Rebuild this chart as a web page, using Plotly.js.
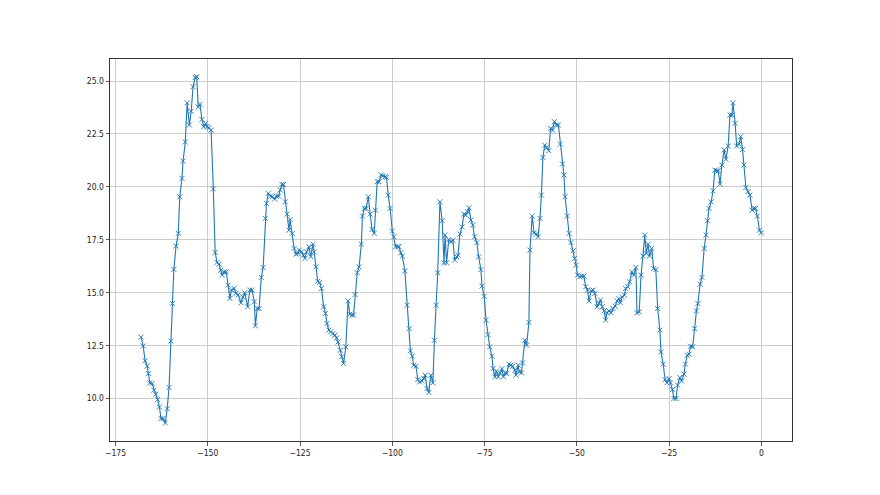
<!DOCTYPE html>
<html>
<head>
<meta charset="utf-8">
<script src="https://cdn.plot.ly/plotly-3.0.1.min.js"></script>
<style>html,body{margin:0;padding:0;background:#fff;}#chart{width:880px;height:495px;}</style>
</head>
<body>
<div id="chart"></div>
<script>
const hours = [
-168.1,-167.5,-167.0,-166.4,-166.1,-165.7,-165.1,-164.6,-164.1,-163.6,-163.1,-162.7,-162.1,-161.5,-161.0,-160.5,-160.0,-159.6,-159.2,-158.6,
-158.0,-157.6,-157.0,-156.7,-156.1,-155.6,-155.0,-154.5,-154.0,-153.4,-153.0,-152.6,-152.1,-151.6,-151.1,-150.6,-150.2,-149.7,-149.1,-148.5,
-148.0,-147.5,-147.0,-146.5,-146.1,-145.6,-145.0,-144.5,-144.0,-143.6,-142.9,-142.4,-141.8,-141.0,-140.5,-140.0,-139.2,-138.6,-138.0,-137.4,
-137.1,-136.6,-136.1,-135.5,-135.0,-134.4,-134.1,-133.6,-133.0,-132.5,-131.9,-131.4,-130.8,-130.4,-129.9,-129.5,-129.0,-128.5,-128.0,-127.7,
-127.1,-126.6,-126.1,-125.6,-125.2,-124.6,-124.1,-123.7,-123.2,-122.6,-122.1,-121.5,-121.2,-120.7,-120.2,-119.7,-119.2,-118.6,-118.1,-117.7,
-117.2,-116.7,-116.1,-115.6,-115.1,-114.7,-114.1,-113.7,-113.2,-112.6,-112.0,-111.5,-111.0,-110.5,-110.1,-109.5,-109.0,-108.4,-108.1,-107.6,
-107.1,-106.5,-106.0,-105.5,-104.9,-104.6,-104.1,-103.6,-103.0,-102.5,-101.9,-101.6,-101.1,-100.6,-100.0,-99.6,-99.1,-98.5,-98.2,-97.7,
-97.3,-96.6,-96.0,-95.4,-95.1,-94.6,-94.2,-93.6,-93.1,-92.6,-92.0,-91.5,-91.1,-90.6,-90.1,-89.6,-89.0,-88.6,-88.1,-87.7,
-87.1,-86.5,-86.0,-85.7,-85.3,-84.7,-84.2,-83.6,-83.1,-82.5,-82.2,-81.7,-81.1,-80.6,-80.1,-79.6,-79.2,-78.7,-78.2,-77.7,
-77.1,-76.6,-76.0,-75.7,-75.1,-74.6,-74.1,-73.6,-73.0,-72.7,-72.2,-71.8,-71.3,-70.8,-70.3,-69.9,-69.4,-69.0,-68.4,-67.9,
-67.4,-66.8,-66.5,-65.9,-65.6,-65.0,-64.7,-64.1,-63.6,-63.0,-62.7,-62.1,-61.6,-61.0,-60.5,-60.0,-59.6,-59.2,-58.7,-58.2,
-57.6,-57.1,-56.6,-56.1,-55.5,-55.0,-54.5,-53.9,-53.5,-53.2,-52.6,-52.1,-51.6,-51.0,-50.6,-50.2,-49.8,-49.2,-48.7,-48.1,
-47.6,-47.1,-46.7,-46.1,-45.6,-45.1,-44.5,-44.0,-43.6,-43.1,-42.6,-42.2,-41.8,-41.3,-40.7,-40.2,-39.6,-39.1,-38.6,-38.2,
-37.7,-37.1,-36.8,-36.2,-35.7,-35.1,-34.6,-34.0,-33.7,-33.1,-32.6,-32.1,-31.6,-31.2,-30.7,-30.3,-29.7,-29.2,-28.6,-28.1,
-27.5,-27.2,-26.6,-26.1,-25.6,-25.0,-24.6,-24.1,-23.7,-23.1,-22.7,-22.1,-21.6,-21.0,-20.6,-20.1,-19.6,-19.2,-18.6,-18.1,
-17.6,-17.2,-16.6,-16.1,-15.5,-15.0,-14.6,-14.2,-13.6,-13.1,-12.6,-12.1,-11.7,-11.2,-10.7,-10.1,-9.6,-9.0,-8.5,-8.0,
-7.7,-7.1,-6.7,-6.1,-5.6,-5.1,-4.7,-4.2,-3.6,-3.1,-2.5,-2.0,-1.6,-1.1,-0.5,0.0
];
const values = [
12.9,12.48,11.78,11.53,11.18,10.74,10.71,10.39,10.2,9.95,9.6,9.05,9.05,8.84,9.52,10.52,12.71,14.49,16.1,17.2,
17.8,19.53,20.4,21.22,22.12,23.97,22.92,23.57,24.73,25.17,25.2,23.78,23.9,23.19,22.84,23.0,22.84,22.79,22.68,19.9,
16.9,16.43,16.35,16.06,15.83,15.98,15.98,15.35,14.72,15.12,15.2,14.96,14.9,14.52,14.8,15.0,14.33,15.12,15.12,14.57,
13.43,14.25,14.25,15.72,16.19,18.51,19.22,19.69,19.56,19.53,19.42,19.56,19.56,19.85,20.11,20.11,19.29,18.71,17.95,18.46,
17.8,17.09,16.82,16.85,17.01,16.93,16.77,16.62,16.93,17.17,16.7,17.29,16.93,16.22,15.54,15.48,15.2,14.33,14.02,13.54,
13.23,13.15,13.07,12.99,12.86,12.67,12.28,11.97,11.65,12.44,14.61,13.98,13.94,13.94,14.91,15.94,16.22,17.29,18.62,18.98,
18.98,19.53,18.71,17.99,17.8,18.9,20.24,20.24,20.56,20.51,20.48,20.45,19.61,18.98,17.91,17.64,17.17,17.17,17.17,16.88,
16.73,16.03,14.41,13.3,12.25,12.0,11.57,11.52,10.89,10.78,10.83,10.95,11.1,10.47,10.28,11.1,10.74,12.75,14.41,15.94,
19.29,18.4,16.41,17.72,16.41,17.51,17.4,17.48,16.54,16.69,16.77,17.77,18.11,18.71,18.66,18.82,19.01,18.43,18.19,17.64,
17.36,16.69,16.09,15.31,14.83,13.7,13.02,12.44,12.0,11.41,11.02,11.29,11.02,11.21,11.41,11.02,11.21,11.18,11.62,11.57,
11.52,11.33,11.1,11.57,11.26,11.21,11.68,12.75,12.52,13.59,17.01,18.62,17.83,17.77,17.64,18.51,19.61,21.39,21.97,21.85,
21.71,22.76,22.68,23.08,22.92,22.92,22.02,21.08,20.56,19.53,18.62,17.8,17.36,16.98,16.62,16.3,15.83,15.75,15.78,15.78,
15.28,15.12,14.61,15.09,15.12,14.96,14.33,14.52,14.65,14.33,14.14,13.7,14.05,14.14,14.05,14.25,14.36,14.61,14.72,14.52,
14.8,14.88,15.2,15.28,15.51,15.98,15.83,16.19,14.05,14.09,15.83,16.73,17.72,16.85,17.29,16.73,17.09,16.14,16.09,14.25,
13.23,12.2,11.62,10.89,10.74,10.94,10.74,10.42,10.0,10.0,10.63,10.99,10.83,11.15,11.62,12.04,12.09,12.47,12.44,13.3,
14.14,14.49,15.4,15.72,17.09,17.72,18.4,18.98,19.29,19.81,20.79,20.76,20.76,20.13,21.03,21.74,21.3,21.93,23.39,23.39,
23.97,23.0,21.93,22.02,22.37,21.77,21.03,19.97,19.77,19.61,18.9,18.98,18.98,18.62,17.95,17.83
];
const xTicks = [-175,-150,-125,-100,-75,-50,-25,0];
const yTicks = [10,12.5,15,17.5,20,22.5,25];

const trace = {
  x: hours, y: values, type: 'scatter', mode: 'lines+markers',
  line: {color: '#1f77b4', width: 1.1},
  marker: {symbol: 'x-thin', size: 5, color: '#1f77b4', line: {color: '#1f77b4', width: 0.9}},
  hoverinfo: 'x+y'
};
const axisCommon = {
  showline: true, mirror: true, linecolor: '#333', linewidth: 1,
  showgrid: true, gridcolor: '#c0c0c0', gridwidth: 0.8,
  zeroline: false, ticks: 'outside', ticklen: 3.5, tickwidth: 0.8, tickcolor: '#333',
  tickfont: {family: 'DejaVu Sans Condensed, DejaVu Sans', size: 8.5, color: '#222'}
};
const layout = {
  width: 880, height: 495,
  margin: {l: 110, r: 88, t: 59, b: 54, pad: 0},
  paper_bgcolor: '#fff', plot_bgcolor: '#fff',
  showlegend: false,
  xaxis: Object.assign({}, axisCommon, {range: [-176.5, 8.3], tickmode: 'array', tickvals: xTicks, ticktext: xTicks.map(v => v < 0 ? '\u2212' + Math.abs(v) : String(v))}),
  yaxis: Object.assign({}, axisCommon, {range: [7.99, 26.04], tickmode: 'array', tickvals: yTicks, ticktext: yTicks.map(v => v.toFixed(1))})
};
Plotly.newPlot('chart', [trace], layout, {displayModeBar: false, staticPlot: true});
</script>
</body>
</html>
